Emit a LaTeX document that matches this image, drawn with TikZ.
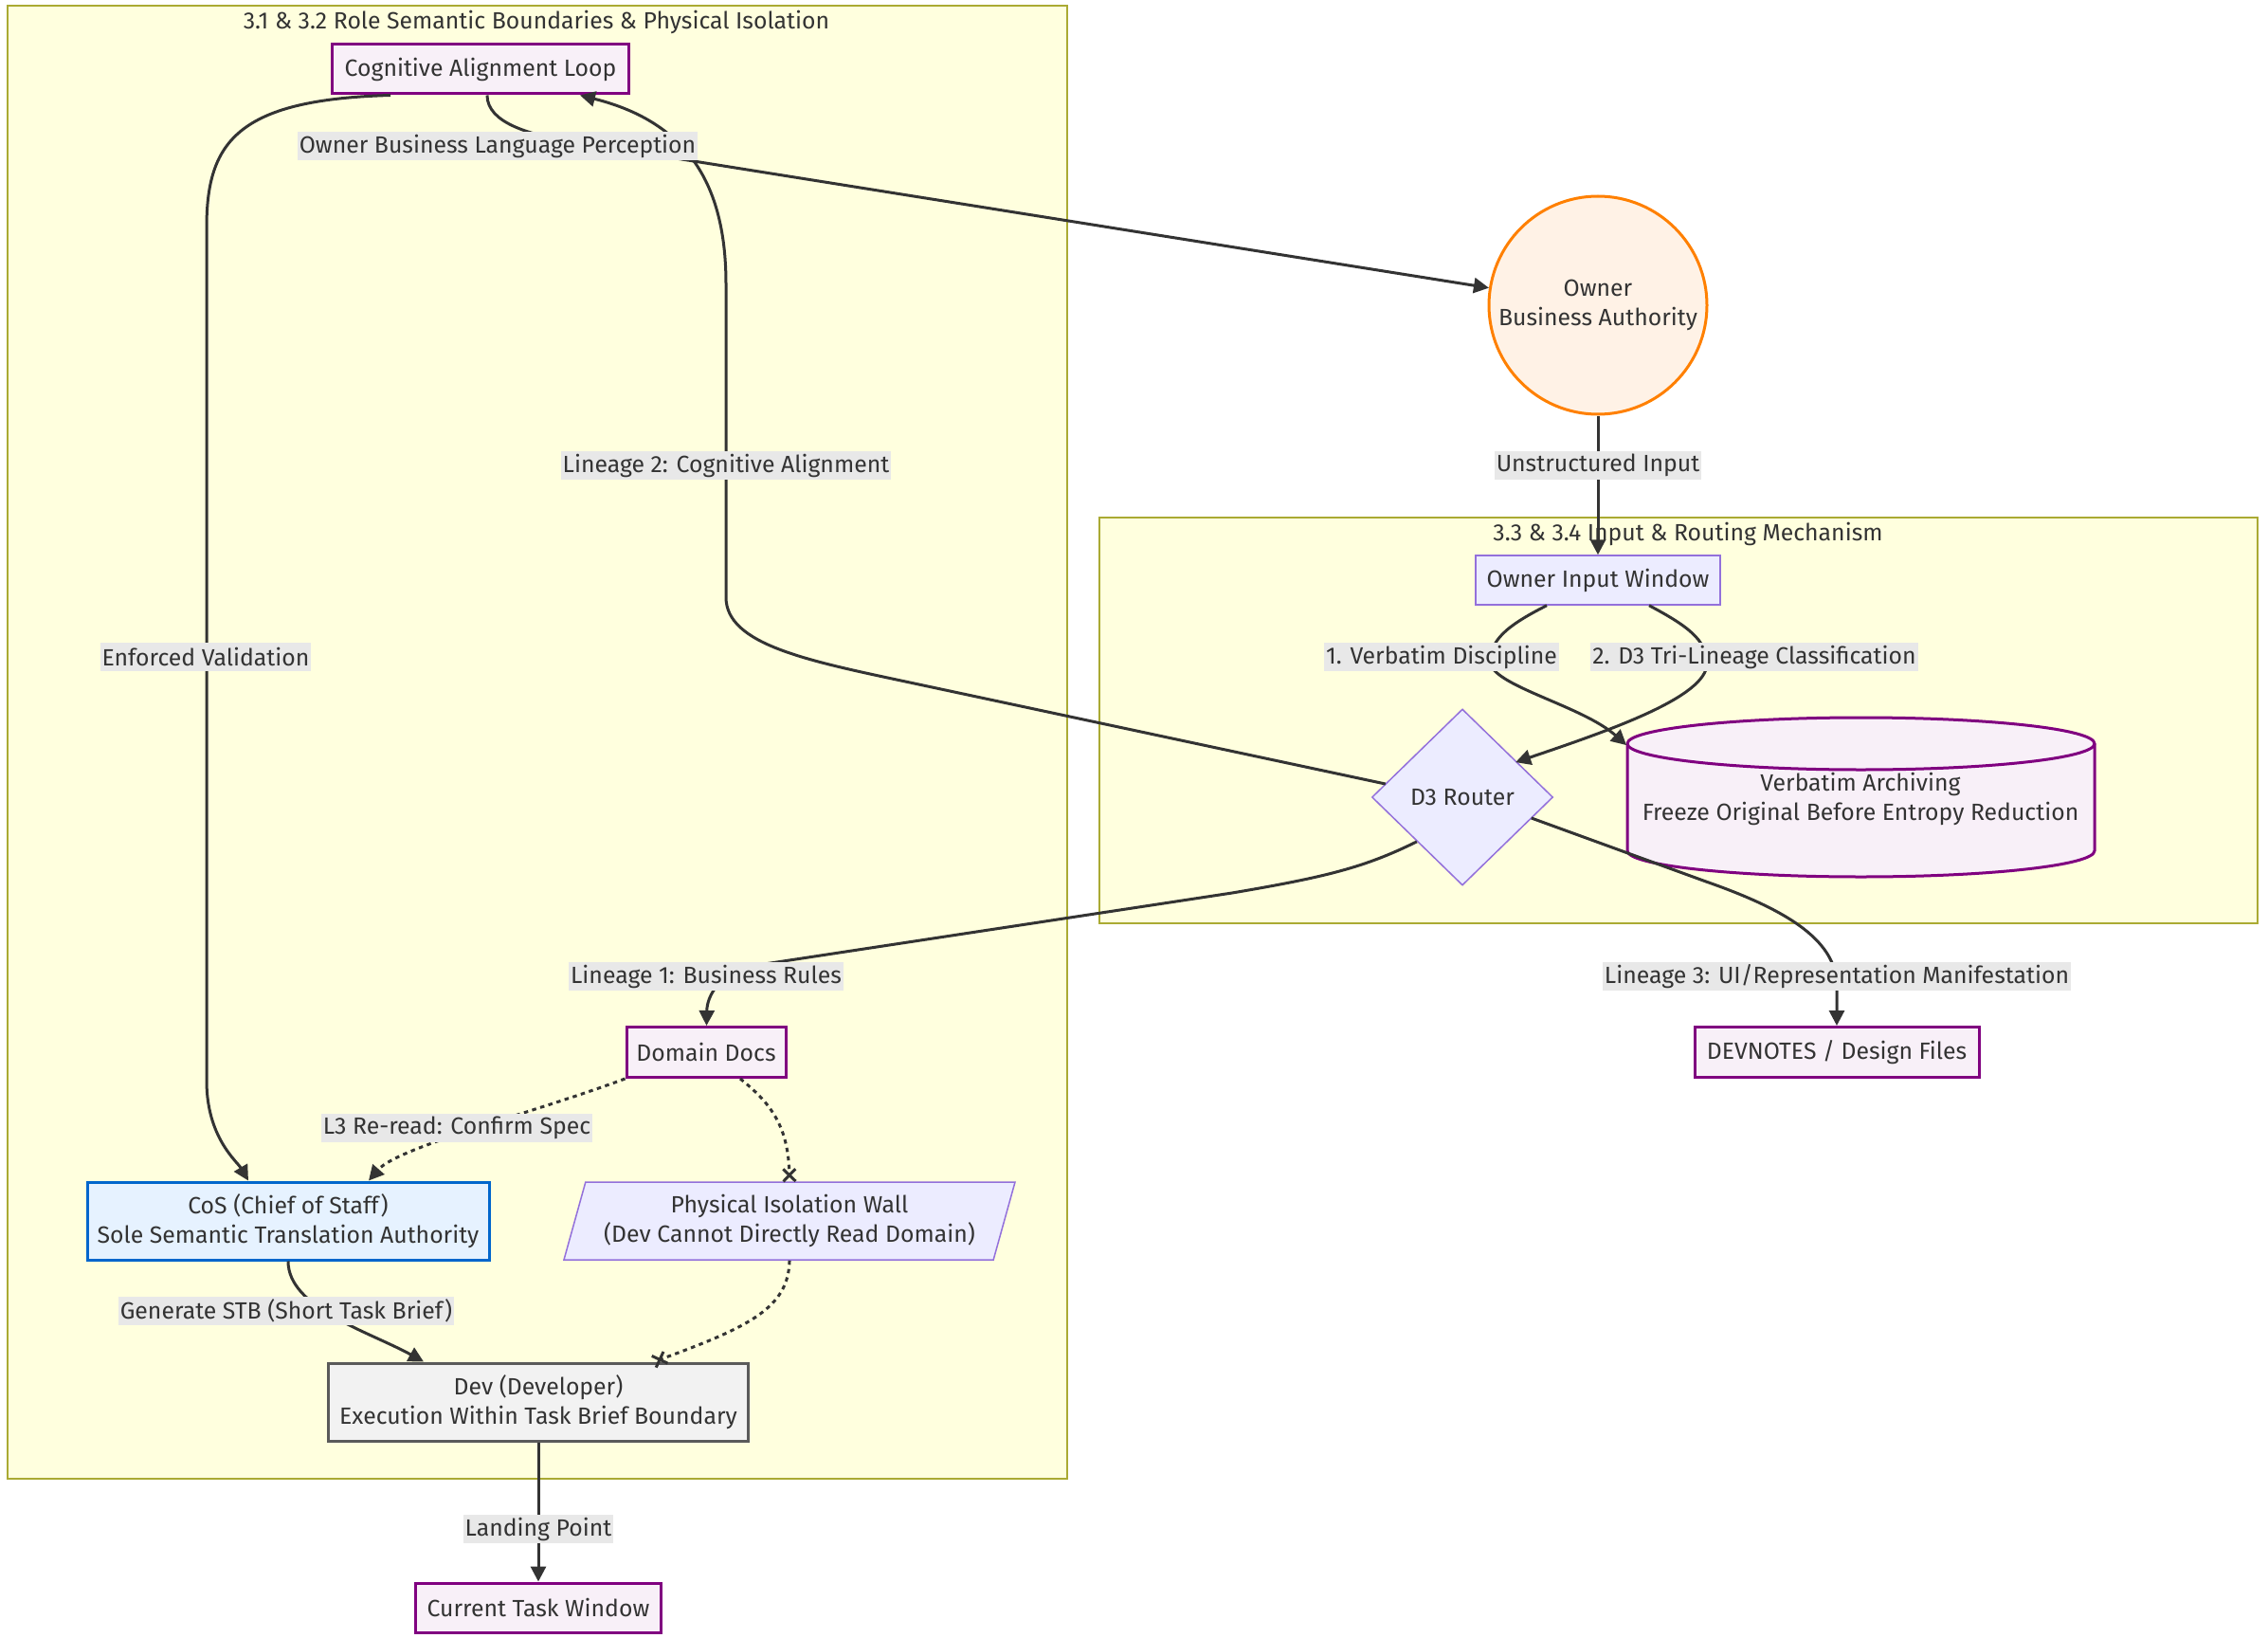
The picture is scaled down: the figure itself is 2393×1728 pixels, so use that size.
\documentclass[tikz,border=0pt]{standalone}
\usepackage{fontspec}
\setmainfont{Fira Sans}
\usepackage{tikz}
\usetikzlibrary{arrows.meta, positioning, shapes.geometric}
\definecolor{clusteryellow}{RGB}{255,255,222}
\definecolor{clusterolive}{RGB}{170,170,51}
\definecolor{defaultlilac}{RGB}{236,236,255}
\definecolor{defaultpurple}{RGB}{147,112,219}
\definecolor{docpink}{RGB}{248,240,248}
\definecolor{docpurple}{RGB}{128,0,128}
\definecolor{ownerpeach}{RGB}{255,242,230}
\definecolor{ownerorange}{RGB}{255,128,0}
\definecolor{cosblue}{RGB}{230,242,255}
\definecolor{cosborder}{RGB}{0,102,204}
\definecolor{devgrey}{RGB}{242,242,242}
\definecolor{devborder}{RGB}{90,90,90}
\definecolor{labelgrey}{RGB}{232,232,232}
\definecolor{inkgrey}{RGB}{51,51,51}

\pgfdeclarearrow{
  name = Cross,
  parameters = {\the\pgfarrowlength},
  setup code = {
    \pgfarrowssettipend{.5\pgfarrowlength}
    \pgfarrowssetlineend{0pt}
    \pgfarrowssetbackend{-.5\pgfarrowlength}
    \pgfarrowssavethe\pgfarrowlength
  },
  drawing code = {
    \pgfsetdash{}{0pt}
    \pgfpathmoveto{\pgfqpoint{-.5\pgfarrowlength}{-.5\pgfarrowlength}}
    \pgfpathlineto{\pgfqpoint{.5\pgfarrowlength}{.5\pgfarrowlength}}
    \pgfpathmoveto{\pgfqpoint{-.5\pgfarrowlength}{.5\pgfarrowlength}}
    \pgfpathlineto{\pgfqpoint{.5\pgfarrowlength}{-.5\pgfarrowlength}}
    \pgfusepathqstroke
  },
  defaults = {length = 5pt}
}

\begin{document}
\begin{tikzpicture}[
    x=0.5pt, y=-0.5pt,
    every node/.style={
        font=\fontsize{12.4}{15.25}\selectfont,
        align=center,
        text=inkgrey,
        inner sep=0pt
    },
    cluster/.style={fill=clusteryellow, draw=clusterolive, line width=0.75pt},
    plainbox/.style={fill=defaultlilac, draw=defaultpurple, line width=0.75pt},
    docbox/.style={fill=docpink, draw=docpurple, line width=1.5pt},
    arrow/.style={-{Triangle[length=8pt, width=8pt]}, line width=1.5pt, draw=inkgrey},
    dottedarrow/.style={arrow, dash pattern=on 2.25pt off 2.25pt},
    blocked/.style={-{Cross[length=6.5pt]}, line width=1.5pt, draw=inkgrey, dash pattern=on 2.25pt off 2.25pt},
    edgelabel/.style={fill=labelgrey, inner xsep=1pt, minimum height=15pt}
]
\useasboundingbox (0,0) rectangle (2393,1728);

\draw[cluster] (8,6) rectangle (1126,1560);
\draw[cluster] (1160,546) rectangle (2382,974);
\node (roletitle) at (566,23) {3.1 \& 3.2 Role Semantic Boundaries \& Physical Isolation};
\node (routingtitle) at (1781,563) {3.3 \& 3.4 Input \& Routing Mechanism};

\node[docbox, minimum width=156.5pt, minimum height=26pt] (cal) at (507,73) {Cognitive Alignment Loop};

\node[circle, fill=ownerpeach, draw=ownerorange, line width=1.5pt, minimum size=115pt] (owner) at (1686,322) {
    Owner\\
    Business Authority
};

\node[plainbox, minimum width=129pt, minimum height=26pt] (inputwin) at (1686,612) {Owner Input Window};

\node[plainbox, diamond, minimum width=95.5pt, minimum height=93pt] (router) at (1543,841) {D3 Router};

\filldraw[docbox] (1717,784.5) -- (1717,897.5)
    arc[start angle=180, end angle=360, x radius=123.25pt, y radius=13.75pt] -- (2210,784.5)
    arc[start angle=0, end angle=180, x radius=123.25pt, y radius=13.75pt] -- cycle;
\draw[docbox, fill=none] (1717,784.5)
    arc[start angle=180, end angle=360, x radius=123.25pt, y radius=13.75pt];
\node[minimum width=246.5pt, minimum height=84pt] (archive) at (1963,843) {
    Verbatim Archiving\\
    Freeze Original Before Entropy Reduction
};

\node[docbox, minimum width=84pt, minimum height=26.5pt] (domaindocs) at (745,1110) {Domain Docs};
\node[docbox, minimum width=150pt, minimum height=26.5pt] (devnotes) at (1938,1110) {DEVNOTES / Design Files};

\node[fill=cosblue, draw=cosborder, line width=1.5pt, minimum width=212pt, minimum height=41pt] (cos) at (304,1288) {
    CoS (Chief of Staff)\\
    Sole Semantic Translation Authority
};

\node[plainbox, trapezium, trapezium left angle=67.5, trapezium right angle=112.5,
    trapezium stretches body, minimum width=238pt, minimum height=41pt] (wall) at (833,1288) {
    Physical Isolation Wall\\
    (Dev Cannot Directly Read Domain)
};

\node[fill=devgrey, draw=devborder, line width=1.5pt, minimum width=221.5pt, minimum height=41pt] (dev) at (568,1479) {
    Dev (Developer)\\
    Execution Within Task Brief Boundary
};

\node[docbox, minimum width=129.5pt, minimum height=26pt] (taskwin) at (568,1696) {Current Task Window};

\draw[arrow] ([xshift=3.5pt]cal.south) .. controls (514,130) and (560,142) .. (600,149) -- (owner);
\draw[arrow] ([xshift=-47.5pt]cal.south) .. controls (250,105) and (218,150) .. (218,240) -- (218,1140)
    .. controls (218,1200) and (250,1225) .. ([xshift=-21pt]cos.north);
\draw[arrow] ([shift={(7.5pt,7pt)}]router.west) -- (960,720) .. controls (852,697) and (766,680) .. (766,630) -- (766,300)
    .. controls (766,200) and (730,130) .. ([xshift=52.5pt]cal.south);
\draw[arrow] (owner) -- (inputwin);
\draw[arrow] ([xshift=-27pt]inputwin.south) .. controls (1590,660) and (1572,675) .. (1572,700)
    .. controls (1580,725) and (1670,745) .. ([yshift=-13.75pt]archive.north west);
\draw[arrow] ([xshift=27pt]inputwin.south) .. controls (1780,660) and (1801,675) .. (1801,700)
    .. controls (1801,735) and (1700,770) .. ([xshift=4pt, yshift=-5pt]router.north east);
\draw[arrow] (router.south west) .. controls (1440,915) and (1400,925) .. (1300,942) -- (800,1018)
    .. controls (760,1024) and (746,1050) .. (domaindocs);
\draw[arrow] ([shift={(-11.75pt,-11pt)}]router.east) -- (1800,930)
    .. controls (1880,958) and (1938,990) .. (1938,1040) -- (devnotes);
\draw[dottedarrow] (domaindocs.south west) .. controls (560,1175) and (420,1210) .. ([xshift=42.5pt]cos.north);
\draw[blocked] ([xshift=18pt]domaindocs.south) .. controls (815,1165) and (832,1190) .. (wall.north);
\draw[blocked] (wall.south) .. controls (832,1380) and (790,1400) .. ([xshift=61pt]dev.north);
\draw[arrow] (cos.south) .. controls (304,1380) and (390,1405) .. ([xshift=-60.5pt]dev.north);
\draw[arrow] (dev) -- (taskwin);

\node[edgelabel] (perception) at (525,154) {Owner Business Language Perception};
\node[edgelabel] (unstructured) at (1686,491) {Unstructured Input};
\node[edgelabel] (lineagetwo) at (766,491) {Lineage 2: Cognitive Alignment};
\node[edgelabel] (enforced) at (217,693) {Enforced Validation};
\node[edgelabel] (verbatim) at (1521,693) {1. Verbatim Discipline};
\node[edgelabel] (trilineage) at (1851,693) {2. D3 Tri-Lineage Classification};
\node[edgelabel] (lineageone) at (745,1030) {Lineage 1: Business Rules};
\node[edgelabel] (lineagethree) at (1938,1030) {Lineage 3: UI/Representation Manifestation};
\node[edgelabel] (reread) at (482,1190) {L3 Re-read: Confirm Spec};
\node[edgelabel] (shortbrief) at (302,1383) {Generate STB (Short Task Brief)};
\node[edgelabel] (landing) at (568,1613) {Landing Point};

\end{tikzpicture}
\end{document}
